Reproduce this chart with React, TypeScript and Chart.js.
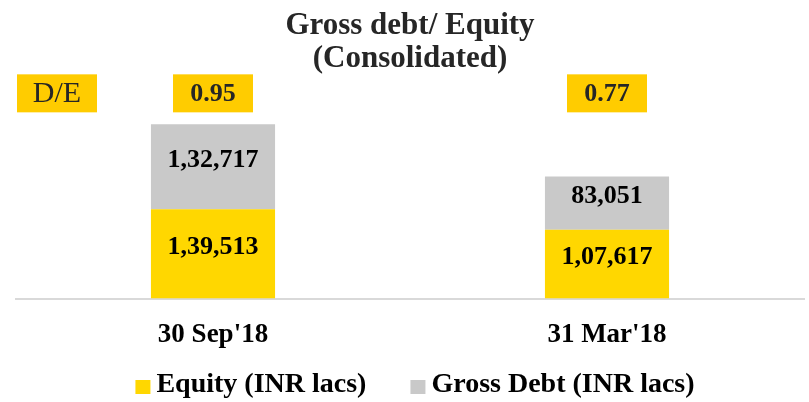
import React, { useEffect, useRef } from "react";
import { Chart, registerables } from "chart.js";

Chart.register(...registerables);

const categories = ["30 Sep'18", "31 Mar'18"];
const equity = [139513, 107617];
const grossDebt = [132717, 83051];
const deLabel = "D/E";
const deRatios = ["0.95", "0.77"];
const titleLines = ["Gross debt/ Equity", "(Consolidated)"];
const seriesNames = ["Equity (INR lacs)", "Gross Debt (INR lacs)"];
const seriesColors = ["#FFD700", "#C9C9C9"];
const yMax = 280000;

const FONT = "'Liberation Serif', 'Times New Roman', serif";

function fmtIN(n: number): string {
  const s = String(Math.round(n));
  if (s.length <= 3) return s;
  const last3 = s.slice(-3);
  let rest = s.slice(0, -3);
  const parts: string[] = [];
  while (rest.length > 2) {
    parts.unshift(rest.slice(-2));
    rest = rest.slice(0, -2);
  }
  if (rest) parts.unshift(rest);
  return parts.join(",") + "," + last3;
}

const barLabelsPlugin = {
  id: "barLabels",
  afterDatasetsDraw(chart: any) {
    const ctx = chart.ctx;
    ctx.save();
    ctx.font = `bold 26px ${FONT}`;
    ctx.fillStyle = "#000";
    ctx.textAlign = "center";
    ctx.textBaseline = "middle";
    chart.data.datasets.forEach((ds: any, i: number) => {
      const meta = chart.getDatasetMeta(i);
      meta.data.forEach((el: any, j: number) => {
        const p = el.getProps(["x", "y", "base"], true);
        ctx.fillText(fmtIN(ds.data[j]), p.x, (p.y + p.base) / 2 - 7);
      });
    });
    ctx.restore();
  },
};

const deBoxesPlugin = {
  id: "deBoxes",
  afterDraw(chart: any) {
    const ctx = chart.ctx;
    const area = chart.chartArea;
    const xs = chart.scales.x;
    const boxW = 80;
    const boxH = 38;
    const boxBottom = area.top - 7;
    const yc = boxBottom - boxH / 2;
    ctx.save();
    ctx.textAlign = "center";
    ctx.textBaseline = "middle";
    const drawBox = (cx: number, text: string, bold: boolean) => {
      ctx.fillStyle = "#FFCC00";
      ctx.fillRect(cx - boxW / 2, yc - boxH / 2, boxW, boxH);
      ctx.fillStyle = "#262626";
      ctx.font = bold ? `bold 26px ${FONT}` : `30px ${FONT}`;
      ctx.fillText(text, cx, yc + 1);
    };
    drawBox(area.left + 1 + boxW / 2, deLabel, false);
    deRatios.forEach((r, i) => {
      drawBox(xs.getPixelForValue(i), r, true);
    });
    ctx.restore();
  },
};

const customLegendPlugin = {
  id: "customLegend",
  afterDraw(chart: any) {
    const ctx = chart.ctx;
    ctx.save();
    ctx.font = `bold 28px ${FONT}`;
    const boxW = 15;
    const boxH = 14;
    const gapBoxText = 6;
    const gapItems = 44;
    const widths = seriesNames.map((n) => ctx.measureText(n).width);
    const total =
      widths.reduce((a, w) => a + boxW + gapBoxText + w, 0) + gapItems * (seriesNames.length - 1);
    let x = 415 - total / 2;
    const boxTop = chart.height - 22;
    const baseline = chart.height - 10;
    seriesNames.forEach((n, i) => {
      ctx.fillStyle = seriesColors[i];
      ctx.fillRect(x, boxTop, boxW, boxH);
      x += boxW + gapBoxText;
      ctx.fillStyle = "#000";
      ctx.textAlign = "left";
      ctx.textBaseline = "alphabetic";
      ctx.fillText(n, x, baseline);
      x += widths[i] + gapItems;
    });
    ctx.restore();
  },
};

export default function App() {
  const canvasRef = useRef<HTMLCanvasElement | null>(null);

  useEffect(() => {
    if (!canvasRef.current) return;
    const chart = new Chart(canvasRef.current, {
      type: "bar",
      data: {
        labels: categories,
        datasets: [
          {
            label: seriesNames[0],
            data: equity,
            backgroundColor: seriesColors[0],
            barPercentage: 1,
            categoryPercentage: 0.315,
          },
          {
            label: seriesNames[1],
            data: grossDebt,
            backgroundColor: seriesColors[1],
            barPercentage: 1,
            categoryPercentage: 0.315,
          },
        ],
      },
      options: {
        responsive: false,
        animation: false,
        events: [],
        layout: { padding: { left: 16, right: 5, top: 0, bottom: 31 } },
        plugins: {
          legend: { display: false },
          tooltip: { enabled: false },
          title: {
            display: true,
            text: titleLines,
            color: "#262626",
            font: { family: FONT, size: 31, weight: "bold", lineHeight: 1.07 },
            padding: { top: 9, bottom: 44 },
          },
        },
        scales: {
          x: {
            stacked: true,
            grid: { display: false, drawTicks: false },
            border: { display: true, color: "#D9D9D9", width: 2 },
            ticks: {
              color: "#000",
              font: { family: FONT, size: 27, weight: "bold" },
              padding: 20,
            },
          },
          y: {
            stacked: true,
            display: false,
            min: 0,
            max: yMax,
          },
        },
      },
      plugins: [barLabelsPlugin, deBoxesPlugin, customLegendPlugin],
    });
    return () => chart.destroy();
  }, []);

  return (
    <div style={{ position: "absolute", left: 0, top: 0, width: 809, height: 402, background: "#fff" }}>
      <canvas ref={canvasRef} width={809} height={402} style={{ display: "block" }} />
    </div>
  );
}
